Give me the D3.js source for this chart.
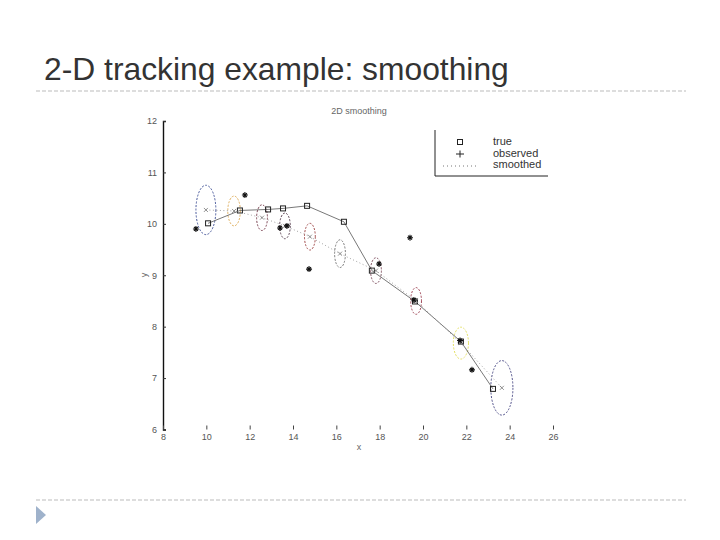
<!DOCTYPE html>
<html><head><meta charset="utf-8">
<script src="https://cdn.jsdelivr.net/npm/d3@7"></script>
<style>body{margin:0;background:#fff}svg{display:block}</style>
</head><body>
<svg id="c" width="720" height="540"></svg>
<script>
const slideTitle = "2-D tracking example: smoothing";
const chartTitle = "2D smoothing";
const xTicks = [8,10,12,14,16,18,20,22,24,26];
const yTicks = [6,7,8,9,10,11,12];
const trueX = [10.08,11.55,12.85,13.54,14.65,16.35,17.64,19.63,21.75,23.23];
const trueY = [10.01,10.26,10.28,10.30,10.35,10.04,9.09,8.49,7.71,6.79];
const obsX = [9.52,11.78,13.40,13.72,14.74,19.40,17.97,19.58,21.71,22.26];
const obsY = [9.90,10.56,9.92,9.96,9.12,9.73,9.22,8.52,7.73,7.16];
const smX = [9.98,11.28,12.57,13.63,14.78,16.17,17.83,19.68,21.75,23.64];
const smY = [10.27,10.25,10.12,9.96,9.75,9.42,9.09,8.50,7.68,6.81];
const sdX = [0.46,0.29,0.25,0.245,0.25,0.25,0.25,0.25,0.35,0.51];
const sdY = [0.48,0.29,0.25,0.25,0.26,0.27,0.25,0.26,0.31,0.53];
const ellColors = ["#4a5a9c","#e0b060","#7a4050","#604858","#a04848","#7a7a7a","#805060","#a04858","#e4e060","#50508a"];
const legendLabels = ["true","observed","smoothed"];

const svg = d3.select("#c");
// slide decorations
svg.append("text").attr("x",44).attr("y",80).attr("font-family","Liberation Sans, Arial, sans-serif")
  .attr("font-size",31.8).attr("fill","#333").text(slideTitle);
svg.append("line").attr("x1",36).attr("x2",686).attr("y1",91).attr("y2",91)
  .attr("stroke","#bbb").attr("stroke-dasharray","4,2");
svg.append("line").attr("x1",36).attr("x2",686).attr("y1",500).attr("y2",500)
  .attr("stroke","#bbb").attr("stroke-dasharray","4,2");
svg.append("path").attr("d","M36,506 L46,515 L36,524 Z").attr("fill","#9fb2cb");

const x = d3.scaleLinear().domain([8,26]).range([163,553]);
const y = d3.scaleLinear().domain([6,12]).range([429.5,121]);
const font = "Liberation Sans, Arial, sans-serif";

// y axis
const ya = svg.append("g").attr("transform",`translate(${x(8)},0)`)
  .call(d3.axisLeft(y).tickValues(yTicks).tickSize(-3).tickPadding(6).tickFormat(d3.format("d")));
ya.select(".domain").attr("stroke","#111").attr("stroke-width",1.4);
ya.selectAll(".tick line").attr("stroke","#333");
ya.selectAll("text").attr("font-family",font).attr("font-size",9).attr("fill","#555");
// x axis (line faded)
const xa = svg.append("g").attr("transform",`translate(0,${y(6)})`)
  .call(d3.axisBottom(x).tickValues(xTicks).tickSize(-4).tickPadding(4).tickFormat(d3.format("d")));
xa.select(".domain").attr("stroke","none");
xa.selectAll(".tick line").attr("stroke","#444");
xa.selectAll("text").attr("font-family",font).attr("font-size",9).attr("fill","#555");

svg.append("text").attr("x",359).attr("y",450).attr("font-family",font).attr("font-size",9)
  .attr("fill","#666").attr("text-anchor","middle").text("x");
svg.append("text").attr("transform","translate(147,275) rotate(-90)").attr("font-family",font)
  .attr("font-size",9).attr("fill","#666").attr("text-anchor","middle").text("y");
svg.append("text").attr("x",359).attr("y",114).attr("font-family",font).attr("font-size",9)
  .attr("fill","#666").attr("text-anchor","middle").text(chartTitle);

// ellipses
svg.append("g").selectAll("ellipse").data(smX).join("ellipse")
  .attr("cx",(d)=>x(d)).attr("cy",(d,i)=>y(smY[i]))
  .attr("rx",(d,i)=>x(8+sdX[i])-x(8)).attr("ry",(d,i)=>y(6)-y(6+sdY[i]))
  .attr("fill","none").attr("stroke",(d,i)=>ellColors[i]).attr("stroke-width",1)
  .attr("stroke-dasharray","2,1.5");

// true line
const trueData = trueX.map((d,i)=>[d,trueY[i]]);
const line = d3.line().x(d=>x(d[0])).y(d=>y(d[1]));
svg.append("path").datum(trueData).attr("d",line).attr("fill","none").attr("stroke","#555").attr("stroke-width",0.8);
svg.append("g").selectAll("rect").data(trueData).join("rect")
  .attr("x",d=>x(d[0])-2.5).attr("y",d=>y(d[1])-2.5).attr("width",5).attr("height",5)
  .attr("fill","none").attr("stroke","#222").attr("stroke-width",1);

// smoothed line
const smData = smX.map((d,i)=>[d,smY[i]]);
svg.append("path").datum(smData).attr("d",line).attr("fill","none").attr("stroke","#999")
  .attr("stroke-width",0.9).attr("stroke-dasharray","1,2.5");
const sx = svg.append("g");
smData.forEach(d=>{
  const cx=x(d[0]), cy=y(d[1]);
  sx.append("path").attr("d",`M${cx-2},${cy-2}L${cx+2},${cy+2}M${cx-2},${cy+2}L${cx+2},${cy-2}`)
    .attr("stroke","#777").attr("stroke-width",0.8);
});

// observed
const obsData = obsX.map((d,i)=>[d,obsY[i]]);
const og = svg.append("g");
obsData.forEach(d=>{
  const cx=x(d[0]), cy=y(d[1]);
  og.append("path").attr("d",`M${cx-3},${cy}L${cx+3},${cy}M${cx},${cy-3}L${cx},${cy+3}M${cx-2},${cy-2}L${cx+2},${cy+2}M${cx-2},${cy+2}L${cx+2},${cy-2}`)
    .attr("stroke","#111").attr("stroke-width",1.1);
});

// legend
const lg = svg.append("g");
lg.append("path").attr("d","M435,130 L435,176 L548,176").attr("fill","none").attr("stroke","#222").attr("stroke-width",1);
lg.append("rect").attr("x",457.5).attr("y",139.5).attr("width",5).attr("height",5).attr("fill","none").attr("stroke","#222");
lg.append("path").attr("d","M456,154 L464,154 M460,150.5 L460,157.5").attr("stroke","#222");
lg.append("line").attr("x1",443).attr("x2",477).attr("y1",166).attr("y2",166).attr("stroke","#777").attr("stroke-dasharray","1,3");
lg.selectAll("text.l").data(legendLabels).join("text").attr("class","l")
  .attr("x",493).attr("y",(d,i)=>145+i*11.5).attr("font-family",font).attr("font-size",11).attr("fill","#333").text(d=>d);
</script>
</body></html>
